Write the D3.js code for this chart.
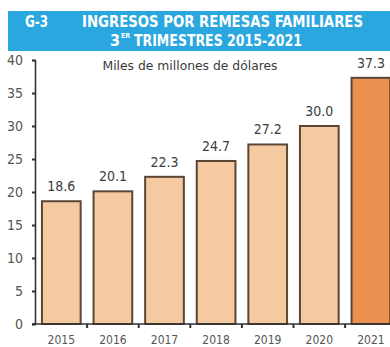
<!DOCTYPE html>
<html>
<head>
<meta charset="utf-8">
<script src="https://cdn.jsdelivr.net/npm/d3@7"></script>
<style>
  html, body { margin: 0; padding: 0; background: #fff; }
  svg { display: block; }
  text { font-family: "DejaVu Sans Condensed", "Liberation Sans Narrow", "Roboto", sans-serif; }
</style>
</head>
<body>
<svg id="chart" width="390" height="347"></svg>
<script>
// Family remittance income, third quarters 2015-2021 (billions of dollars)
const years = ["2015", "2016", "2017", "2018", "2019", "2020", "2021"];
const values = [18.6, 20.1, 22.3, 24.7, 27.2, 30.0, 37.3];
const yTicks = [0, 5, 10, 15, 20, 25, 30, 35, 40];
const chartCode = "G-3";
const titleLine1 = "INGRESOS POR REMESAS FAMILIARES";
const titleLine2 = "TRIMESTRES 2015-2021";
const unitLabel = "Miles de millones de dólares";

const svg = d3.select("#chart");
const W = 390, H = 347;

// Title band
svg.append("rect")
  .attr("x", 8).attr("y", 11)
  .attr("width", W - 8).attr("height", 40)
  .attr("fill", "#2aa7df");

svg.append("text")
  .attr("x", 25).attr("y", 27)
  .attr("fill", "#fff").attr("font-size", 16).attr("font-weight", "bold")
  .attr("textLength", 23).attr("lengthAdjust", "spacingAndGlyphs")
  .text(chartCode);

svg.append("text")
  .attr("x", 82).attr("y", 27)
  .attr("fill", "#fff").attr("font-size", 16).attr("font-weight", "bold")
  .attr("textLength", 281).attr("lengthAdjust", "spacingAndGlyphs")
  .text(titleLine1);

// Second title line: ordinal superscript followed by the period range
const t2 = svg.append("g");
t2.append("text")
  .attr("x", 110).attr("y", 46)
  .attr("fill", "#fff").attr("font-size", 16).attr("font-weight", "bold")
  .text("3");
t2.append("text")
  .attr("x", 121).attr("y", 38)
  .attr("fill", "#fff").attr("font-size", 7).attr("font-weight", "bold")
  .text("ER");
t2.append("text")
  .attr("x", 134).attr("y", 46)
  .attr("fill", "#fff").attr("font-size", 16).attr("font-weight", "bold")
  .attr("textLength", 168).attr("lengthAdjust", "spacingAndGlyphs")
  .text(titleLine2);

// Scales
const y = d3.scaleLinear().domain([0, 40]).range([324, 60]);
const x = d3.scaleBand().domain(years).range([35.5, 396.7])
  .paddingInner(0.25).paddingOuter(0.125);

// Unit label
svg.append("text")
  .attr("x", 190).attr("y", 70)
  .attr("text-anchor", "middle")
  .attr("fill", "#3a3a3a").attr("font-size", 13)
  .attr("textLength", 175).attr("lengthAdjust", "spacingAndGlyphs")
  .text(unitLabel);

// Bars
svg.append("g").selectAll("rect")
  .data(values)
  .join("rect")
  .attr("x", (d, i) => x(years[i]))
  .attr("y", d => y(d))
  .attr("width", x.bandwidth())
  .attr("height", d => y(0) - y(d))
  .attr("fill", (d, i) => i === years.length - 1 ? "#ea9150" : "#f6caa1")
  .attr("stroke", "#5b4636")
  .attr("stroke-width", 2);

// Value labels
svg.append("g").selectAll("text")
  .data(values)
  .join("text")
  .attr("x", (d, i) => x(years[i]) + x.bandwidth() / 2)
  .attr("y", d => y(d) - 10)
  .attr("text-anchor", "middle")
  .attr("fill", "#3d3d3d").attr("font-size", 14)
  .text(d => d.toFixed(1));

// Y axis
const yAxis = svg.append("g")
  .attr("transform", "translate(35,0)")
  .call(d3.axisLeft(y).tickValues(yTicks).tickSize(3).tickPadding(9));
yAxis.select(".domain").attr("stroke", "#333").attr("stroke-width", 1.6);
yAxis.selectAll(".tick line").attr("stroke", "#333").attr("stroke-width", 2);
yAxis.selectAll(".tick text")
  .attr("fill", "#555").attr("font-size", 14)
  .style("font-family", "\"DejaVu Sans Condensed\", sans-serif");

// X axis with boundary ticks between bands
const xAxis = svg.append("g").attr("transform", "translate(0,324)");
xAxis.append("line")
  .attr("x1", 32).attr("x2", W)
  .attr("stroke", "#333").attr("stroke-width", 1.6);
xAxis.selectAll(".sep")
  .data(years.slice(1))
  .join("line")
  .attr("class", "sep")
  .attr("x1", d => x(d) - x.step() * x.paddingInner() / 2)
  .attr("x2", d => x(d) - x.step() * x.paddingInner() / 2)
  .attr("y1", 0).attr("y2", 4)
  .attr("stroke", "#333").attr("stroke-width", 2);
xAxis.selectAll(".yr")
  .data(years)
  .join("text")
  .attr("class", "yr")
  .attr("x", d => x(d) + x.bandwidth() / 2)
  .attr("y", 20)
  .attr("text-anchor", "middle")
  .attr("fill", "#555").attr("font-size", 12)
  .text(d => d);
</script>
</body>
</html>
